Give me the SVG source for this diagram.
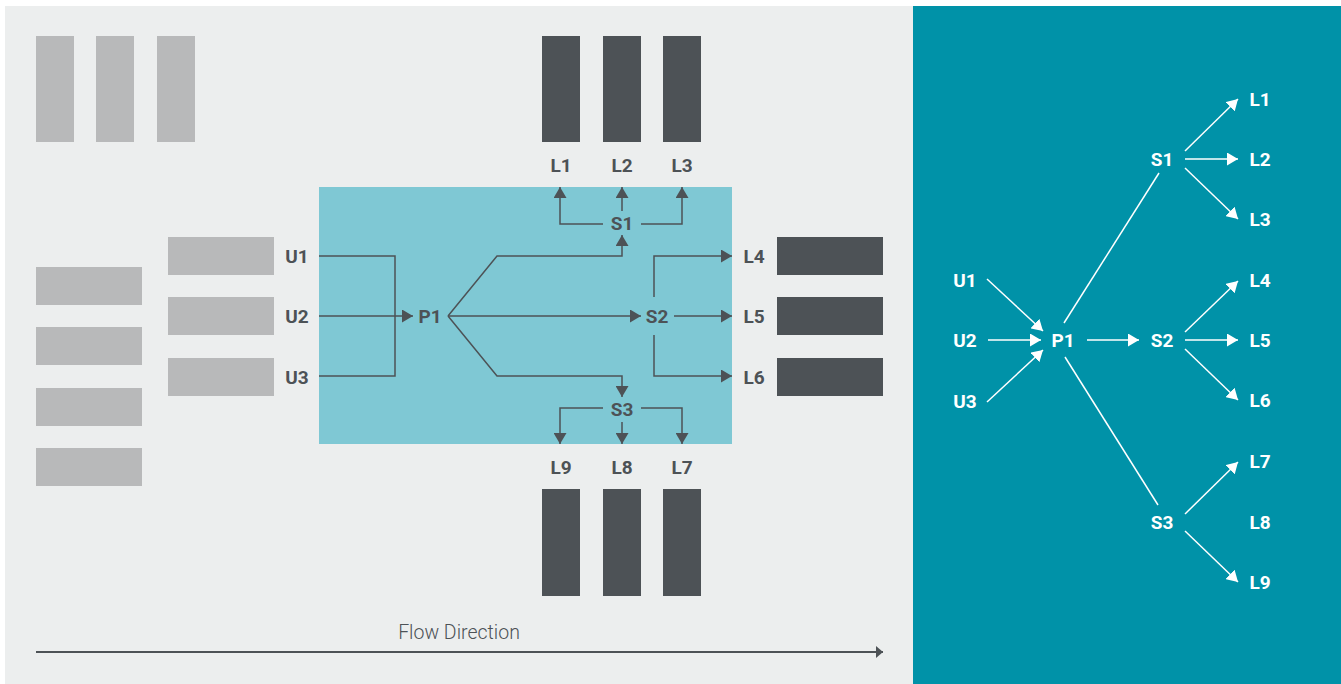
<svg xmlns="http://www.w3.org/2000/svg" width="1341" height="684" viewBox="0 0 1341 684">
<defs>
<style>
.lg{fill:#b8b9ba}
.dk{fill:#4d5256}
.t{font-family:Roboto,"Liberation Sans",sans-serif;font-weight:bold;font-size:19px;text-anchor:middle;dominant-baseline:central}
.td{fill:#4d5256}
.tw{fill:#ffffff}
.cd{fill:none;stroke:#4d5256;stroke-width:1.5}
.cw{fill:none;stroke:#ffffff;stroke-width:1.5}
</style>
<marker id="ad" markerUnits="userSpaceOnUse" markerWidth="12" markerHeight="13" refX="11" refY="6.5" orient="auto" viewBox="0 0 12 13"><path d="M0,0 L11,6.5 L0,13 z" fill="#4d5256"/></marker>
<marker id="aw" markerUnits="userSpaceOnUse" markerWidth="12" markerHeight="13" refX="11" refY="6.5" orient="auto" viewBox="0 0 12 13"><path d="M0,0 L11,6.5 L0,13 z" fill="#ffffff"/></marker>
<marker id="af" markerUnits="userSpaceOnUse" markerWidth="8" markerHeight="12" refX="7" refY="6" orient="auto" viewBox="0 0 8 12"><path d="M0,0 L7,6 L0,12 z" fill="#4d5256"/></marker>
</defs>
<rect x="0" y="0" width="1341" height="684" fill="#ffffff"/>
<rect id="left-panel" x="5" y="6" width="908" height="678" fill="#eceeee"/>
<rect id="right-panel" x="913" y="6" width="428" height="678" fill="#0092a8"/>

<g id="storage-top-left">
<rect class="lg" x="36" y="36" width="38" height="106"/>
<rect class="lg" x="96" y="36" width="38" height="106"/>
<rect class="lg" x="157" y="36" width="38" height="106"/>
</g>
<g id="storage-left">
<rect class="lg" x="36" y="267" width="106" height="38"/>
<rect class="lg" x="36" y="327" width="106" height="38"/>
<rect class="lg" x="36" y="388" width="106" height="38"/>
<rect class="lg" x="36" y="448" width="106" height="38"/>
</g>
<g id="unloading">
<rect class="lg" x="168" y="237" width="106" height="38"/>
<rect class="lg" x="168" y="297" width="106" height="38"/>
<rect class="lg" x="168" y="358" width="106" height="38"/>
</g>
<g id="loading-top">
<rect class="dk" x="542" y="36" width="38" height="106"/>
<rect class="dk" x="603" y="36" width="38" height="106"/>
<rect class="dk" x="663" y="36" width="38" height="106"/>
</g>
<g id="loading-right">
<rect class="dk" x="777" y="237" width="106" height="38"/>
<rect class="dk" x="777" y="297" width="106" height="38"/>
<rect class="dk" x="777" y="358" width="106" height="38"/>
</g>
<g id="loading-bottom">
<rect class="dk" x="542" y="489" width="38" height="107"/>
<rect class="dk" x="603" y="489" width="38" height="107"/>
<rect class="dk" x="663" y="489" width="38" height="107"/>
</g>
<rect id="process-area" x="319" y="187" width="413" height="257" fill="#7fc8d4"/>

<g id="connectors-left">
<path class="cd" d="M319,256 H395 V376 H319"/>
<path class="cd" d="M319,316 H413" marker-end="url(#ad)"/>
<path class="cd" d="M448,316 L497,256 H622 V235" marker-end="url(#ad)"/>
<path class="cd" d="M448,316 H641" marker-end="url(#ad)"/>
<path class="cd" d="M448,316 L497,376 H622 V397" marker-end="url(#ad)"/>
<path class="cd" d="M603,224 H560 V187" marker-end="url(#ad)"/>
<path class="cd" d="M622,211 V187" marker-end="url(#ad)"/>
<path class="cd" d="M641,224 H682 V187" marker-end="url(#ad)"/>
<path class="cd" d="M654,297 V256 H732" marker-end="url(#ad)"/>
<path class="cd" d="M674,316 H732" marker-end="url(#ad)"/>
<path class="cd" d="M654,335 V376 H732" marker-end="url(#ad)"/>
<path class="cd" d="M603,408 H560 V444" marker-end="url(#ad)"/>
<path class="cd" d="M622,422 V444" marker-end="url(#ad)"/>
<path class="cd" d="M641,408 H682 V444" marker-end="url(#ad)"/>
<path d="M36,652 H883" fill="none" stroke="#4d5256" stroke-width="2" marker-end="url(#af)"/>
</g>

<g id="labels-left">
<text class="t td" x="297" y="256">U1</text>
<text class="t td" x="297" y="316">U2</text>
<text class="t td" x="297" y="377">U3</text>
<text class="t td" x="430" y="316">P1</text>
<text class="t td" x="622" y="223">S1</text>
<text class="t td" x="657" y="316">S2</text>
<text class="t td" x="622" y="409">S3</text>
<text class="t td" x="561" y="165">L1</text>
<text class="t td" x="622" y="165">L2</text>
<text class="t td" x="682" y="165">L3</text>
<text class="t td" x="754" y="256">L4</text>
<text class="t td" x="754" y="316">L5</text>
<text class="t td" x="754" y="377">L6</text>
<text class="t td" x="561" y="467">L9</text>
<text class="t td" x="622" y="467">L8</text>
<text class="t td" x="682" y="467">L7</text>
<text x="459" y="632" font-family="Roboto,'Liberation Sans',sans-serif" font-weight="300" font-size="19.5" fill="#4d5256" text-anchor="middle" dominant-baseline="central">Flow Direction</text>
</g>

<g id="connectors-right">
<path class="cw" d="M987,279 L1043,331" marker-end="url(#aw)"/>
<path class="cw" d="M988,340 H1041" marker-end="url(#aw)"/>
<path class="cw" d="M987,402 L1043,350" marker-end="url(#aw)"/>
<path class="cw" d="M1064,323 L1159,173"/>
<path class="cw" d="M1087,340 H1139" marker-end="url(#aw)"/>
<path class="cw" d="M1065,357 L1158,505"/>
<path class="cw" d="M1185,151 L1238,99" marker-end="url(#aw)"/>
<path class="cw" d="M1185,159 H1238" marker-end="url(#aw)"/>
<path class="cw" d="M1185,168 L1238,219" marker-end="url(#aw)"/>
<path class="cw" d="M1185,332 L1238,281" marker-end="url(#aw)"/>
<path class="cw" d="M1185,340 H1238" marker-end="url(#aw)"/>
<path class="cw" d="M1185,349 L1238,400" marker-end="url(#aw)"/>
<path class="cw" d="M1185,514 L1238,462" marker-end="url(#aw)"/>
<path class="cw" d="M1185,531 L1238,582" marker-end="url(#aw)"/>
</g>

<g id="labels-right">
<text class="t tw" x="965" y="280">U1</text>
<text class="t tw" x="965" y="340">U2</text>
<text class="t tw" x="965" y="401">U3</text>
<text class="t tw" x="1063" y="340">P1</text>
<text class="t tw" x="1162" y="159">S1</text>
<text class="t tw" x="1162" y="340">S2</text>
<text class="t tw" x="1162" y="522">S3</text>
<text class="t tw" x="1260" y="99">L1</text>
<text class="t tw" x="1260" y="159">L2</text>
<text class="t tw" x="1260" y="219">L3</text>
<text class="t tw" x="1260" y="280">L4</text>
<text class="t tw" x="1260" y="340">L5</text>
<text class="t tw" x="1260" y="400">L6</text>
<text class="t tw" x="1260" y="461">L7</text>
<text class="t tw" x="1260" y="522">L8</text>
<text class="t tw" x="1260" y="582">L9</text>
</g>
</svg>
